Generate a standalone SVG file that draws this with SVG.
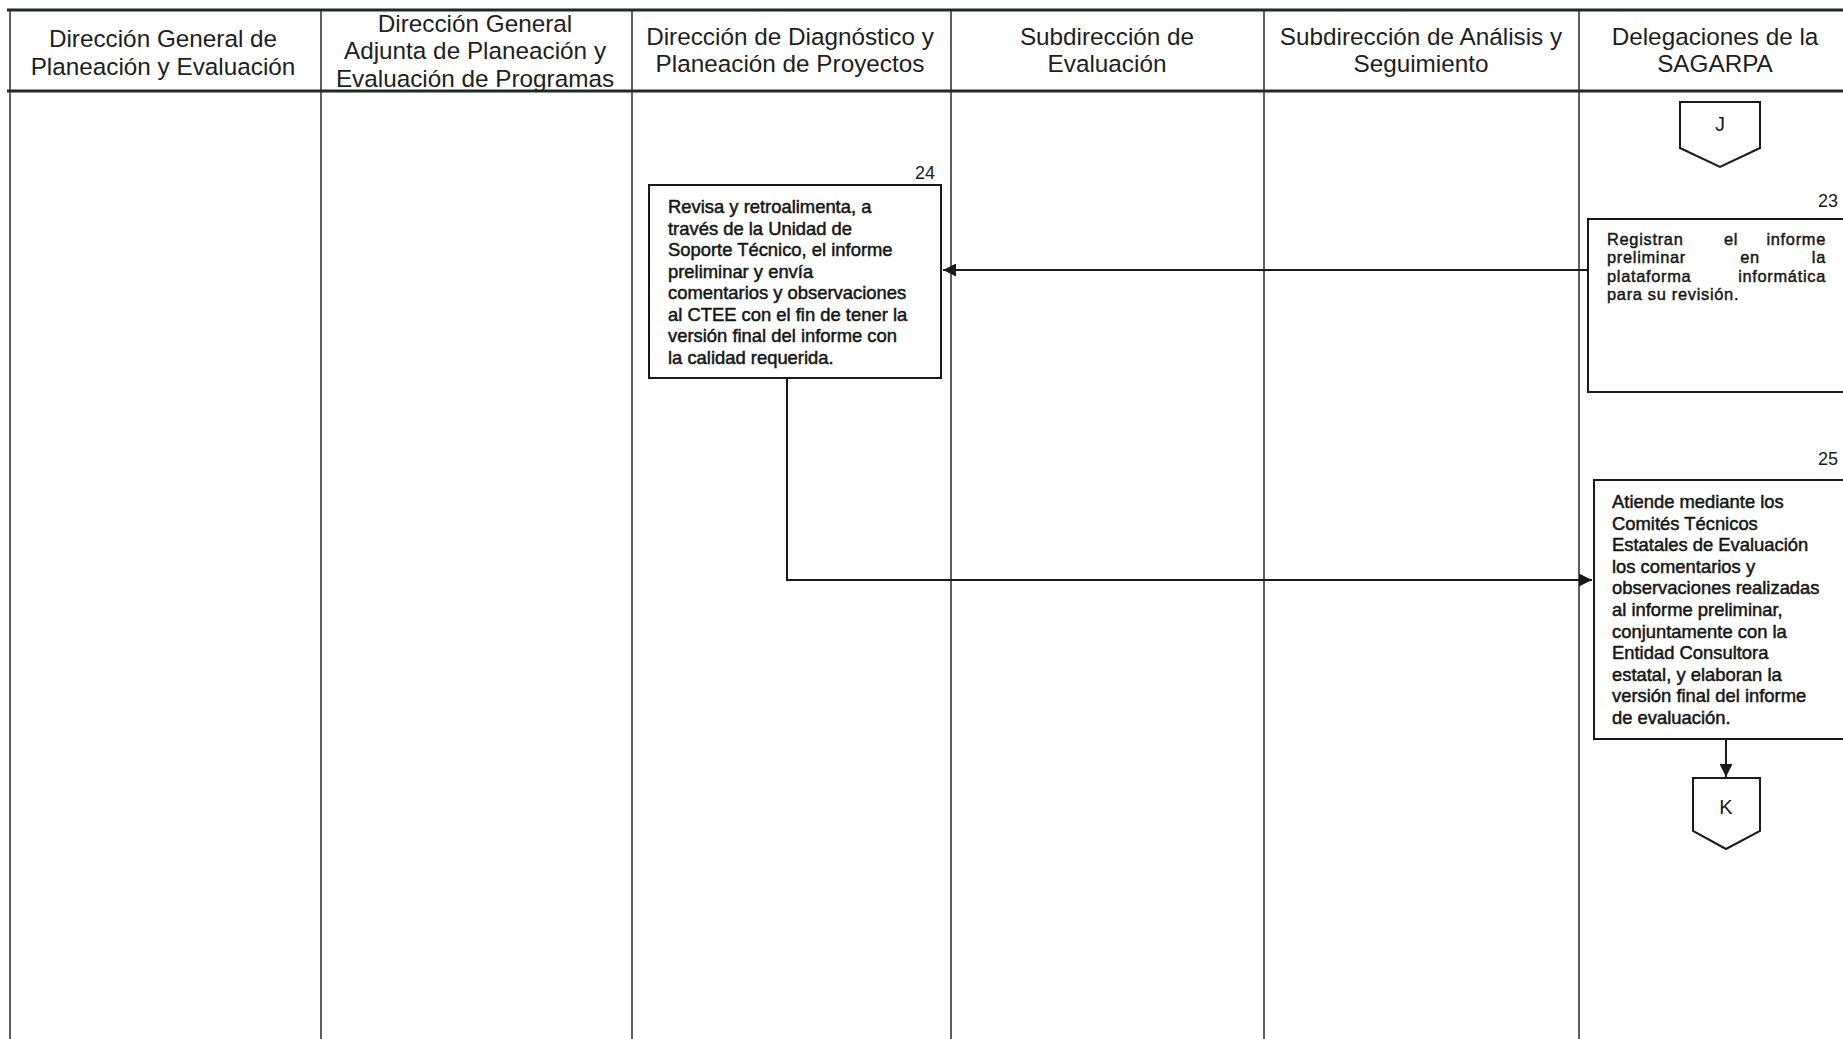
<svg xmlns="http://www.w3.org/2000/svg" width="1843" height="1039" viewBox="0 0 1843 1039">
  <style>
    .hdr { font-family: "Liberation Sans", Arial, sans-serif; font-size: 24.3px; fill: #1e1e1e; text-anchor: middle; }
    .txt { font-family: "Liberation Sans", Arial, sans-serif; font-size: 18.4px; fill: #161616; stroke: #161616; stroke-width: 0.5; }
    .txt23 { font-family: "Liberation Sans", Arial, sans-serif; font-size: 16.4px; letter-spacing: 0.7px; fill: #161616; stroke: #161616; stroke-width: 0.45; }
    .num { font-family: "Liberation Sans", Arial, sans-serif; font-size: 18px; fill: #1a1a1a; text-anchor: end; }
    .conn-lbl { font-family: "Liberation Sans", Arial, sans-serif; font-size: 20px; fill: #1a1a1a; text-anchor: middle; }
    .box { fill: #ffffff; stroke: #1a1a1a; stroke-width: 2; }
    .lane { stroke: #2a2a2a; stroke-width: 1.5; fill: none; }
    .hline { stroke: #1f2a26; stroke-width: 3; fill: none; }
    .edge { stroke: #1a1a1a; stroke-width: 2; fill: none; marker-end: url(#arrow); }
  </style>
  <defs>
    <marker id="arrow" viewBox="0 0 10 10" refX="10" refY="5" markerWidth="16" markerHeight="13" markerUnits="userSpaceOnUse" orient="auto">
      <path d="M0,0 L10,5 L0,10 z" fill="#1a1a1a"/>
    </marker>
  </defs>
  <rect x="0" y="0" width="1843" height="1039" fill="#ffffff"/>

  <g id="swimlanes">
    <line class="hline" x1="7" y1="10" x2="1843" y2="10"/>
    <line class="hline" x1="7" y1="91" x2="1843" y2="91"/>
    <line class="lane" x1="10" y1="10" x2="10" y2="1039"/>
    <line class="lane" x1="321" y1="10" x2="321" y2="1039"/>
    <line class="lane" x1="632" y1="10" x2="632" y2="1039"/>
    <line class="lane" x1="951" y1="10" x2="951" y2="1039"/>
    <line class="lane" x1="1264" y1="10" x2="1264" y2="1039"/>
    <line class="lane" x1="1579" y1="10" x2="1579" y2="1039"/>
  </g>

  <g id="headers">
    <text class="hdr" x="163" y="47">Dirección General de</text>
    <text class="hdr" x="163" y="75">Planeación y Evaluación</text>
    <text class="hdr" x="475" y="32">Dirección General</text>
    <text class="hdr" x="475" y="59">Adjunta de Planeación y</text>
    <text class="hdr" x="475" y="87">Evaluación de Programas</text>
    <text class="hdr" x="790" y="45">Dirección de Diagnóstico y</text>
    <text class="hdr" x="790" y="72">Planeación de Proyectos</text>
    <text class="hdr" x="1107" y="45">Subdirección de</text>
    <text class="hdr" x="1107" y="72">Evaluación</text>
    <text class="hdr" x="1421" y="45">Subdirección de Análisis y</text>
    <text class="hdr" x="1421" y="72">Seguimiento</text>
    <text class="hdr" x="1715" y="45">Delegaciones de la</text>
    <text class="hdr" x="1715" y="72">SAGARPA</text>
  </g>

  <g id="connectors">
    <path class="edge" d="M1588 270 H943"/>
    <path class="edge" d="M787 378 V580 H1592"/>
    <path class="edge" d="M1726 739 V777"/>
  </g>

  <g id="node-J">
    <polygon class="box" points="1680,102 1760,102 1760,148 1720,167 1680,148"/>
    <text class="conn-lbl" x="1720" y="131">J</text>
  </g>

  <g id="node-23">
    <text class="num" x="1838" y="207">23</text>
    <rect class="box" x="1588" y="219" width="270" height="173"/>
    <text class="txt23" x="1607" y="245">Registran</text>
    <text class="txt23" x="1731" y="245" text-anchor="middle">el</text>
    <text class="txt23" x="1826" y="245" text-anchor="end">informe</text>
    <text class="txt23" x="1607" y="263.3">preliminar</text>
    <text class="txt23" x="1750" y="263.3" text-anchor="middle">en</text>
    <text class="txt23" x="1826" y="263.3" text-anchor="end">la</text>
    <text class="txt23" x="1607" y="281.6">plataforma</text>
    <text class="txt23" x="1826" y="281.6" text-anchor="end">informática</text>
    <text class="txt23" x="1607" y="299.9">para su revisión.</text>
  </g>

  <g id="node-24">
    <text class="num" x="935" y="179">24</text>
    <rect class="box" x="649" y="185" width="292" height="193"/>
    <text class="txt" x="668" y="213">Revisa y retroalimenta, a</text>
    <text class="txt" x="668" y="234.5">través de la Unidad de</text>
    <text class="txt" x="668" y="256">Soporte Técnico, el informe</text>
    <text class="txt" x="668" y="277.5">preliminar y envía</text>
    <text class="txt" x="668" y="299">comentarios y observaciones</text>
    <text class="txt" x="668" y="320.5">al CTEE con el fin de tener la</text>
    <text class="txt" x="668" y="342">versión final del informe con</text>
    <text class="txt" x="668" y="363.5">la calidad requerida.</text>
  </g>

  <g id="node-25">
    <text class="num" x="1838" y="465">25</text>
    <rect class="box" x="1594" y="480" width="270" height="259"/>
    <text class="txt" x="1612" y="508">Atiende mediante los</text>
    <text class="txt" x="1612" y="529.6">Comités Técnicos</text>
    <text class="txt" x="1612" y="551.2">Estatales de Evaluación</text>
    <text class="txt" x="1612" y="572.8">los comentarios y</text>
    <text class="txt" x="1612" y="594.4">observaciones realizadas</text>
    <text class="txt" x="1612" y="616">al informe preliminar,</text>
    <text class="txt" x="1612" y="637.6">conjuntamente con la</text>
    <text class="txt" x="1612" y="659.2">Entidad Consultora</text>
    <text class="txt" x="1612" y="680.8">estatal, y elaboran la</text>
    <text class="txt" x="1612" y="702.4">versión final del informe</text>
    <text class="txt" x="1612" y="724">de evaluación.</text>
  </g>

  <g id="node-K">
    <polygon class="box" points="1693,778 1760,778 1760,831 1726,849 1693,831"/>
    <text class="conn-lbl" x="1726" y="814">K</text>
  </g>
</svg>
